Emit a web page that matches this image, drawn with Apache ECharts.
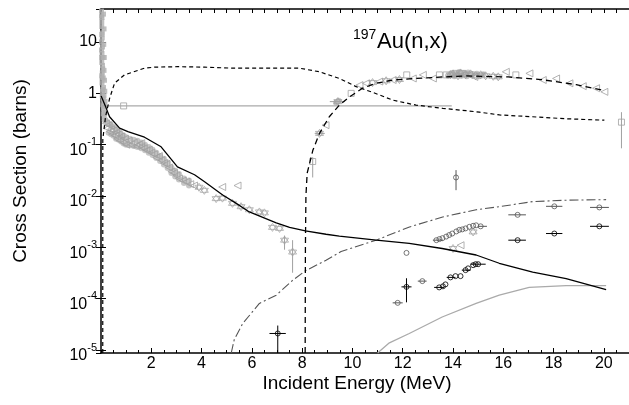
<!DOCTYPE html>
<html>
<head>
<meta charset="utf-8">
<script src="https://cdn.jsdelivr.net/npm/echarts@6/dist/echarts.min.js"></script>
<style>
  html, body { margin: 0; padding: 0; background: #fff; }
  #main { width: 629px; height: 405px; }
</style>
</head>
<body>
<div id="main"></div>
<script>
// axis range
var xMin = 0, xMax = 21;
var yMin = 8.75e-6, yMax = 44;

// evaluated curves [E (MeV), sigma (b)]
var capture = [[0.005, 0.89], [0.21, 0.51], [0.34, 0.35], [0.74, 0.21], [1.07, 0.18], [1.73, 0.14],
  [2.39, 0.091], [3.04, 0.037], [3.72, 0.026], [4.12, 0.019], [4.84, 0.0105], [5.38, 0.0072],
  [5.9, 0.0049], [6.97, 0.0030], [7.5, 0.00245], [8.13, 0.0021], [8.95, 0.0018], [9.48, 0.00166],
  [10.95, 0.00138], [12.26, 0.0012], [13.57, 0.00095], [14.92, 0.00071], [15.84, 0.00049],
  [17.17, 0.00033], [18.5, 0.000245], [20.09, 0.00015]];
var inelastic = [[0.07, 8.75e-6], [0.072, 0.126], [0.18, 0.35], [0.34, 0.79], [0.54, 1.58], [0.93, 2.29],
  [1.73, 3.09], [2.13, 3.24], [3.04, 3.31], [4.12, 3.24], [5.3, 3.09], [6.1, 3.09], [7.9, 3.09],
  [8.69, 2.63], [9.48, 1.95], [10.15, 1.35], [10.8, 1.05], [11.6, 0.74], [12.53, 0.59], [13.6, 0.51],
  [14.52, 0.46], [15.05, 0.43], [15.85, 0.38], [17.16, 0.35], [18.5, 0.32], [20.02, 0.30]];
var n2n = [[8.12, 8.75e-6], [8.13, 0.001], [8.15, 0.01], [8.2, 0.028], [8.43, 0.079], [8.69, 0.166],
  [9.08, 0.35], [9.48, 0.59], [9.88, 0.85], [10.4, 1.26], [10.94, 1.57], [11.6, 1.82], [12.53, 1.95],
  [13.6, 2.09], [14.52, 2.19], [16.2, 2.09], [17.5, 1.86], [18.9, 1.48], [20.05, 1.12]];
var nAlpha = [[5.18, 8.75e-6], [5.3, 1.6e-5], [5.64, 3.3e-5], [6.3, 8.1e-5], [6.97, 1.17e-4], [7.63, 2.3e-4],
  [8.13, 3.5e-4], [8.95, 5.6e-4], [9.55, 8.3e-4], [10.94, 1.38e-3], [12.27, 2.5e-3], [13.59, 3.9e-3],
  [14.92, 5.4e-3], [15.84, 6.2e-3], [17.17, 7.8e-3], [18.5, 8.3e-3], [20.09, 8.5e-3]];
var nProton = [[11.0, 8.75e-6], [11.47, 1.38e-5], [12.26, 2.1e-5], [13.57, 4.4e-5], [14.92, 8.1e-5],
  [15.84, 1.17e-4], [17.03, 1.66e-4], [18.5, 1.8e-4], [20.09, 1.8e-4]];
var flatLine = [[0, 0.57], [13.95, 0.57]];

// measured data, grey
var resonance = [[0.02, 40], [0.04, 30], [0.03, 20], [0.05, 15], [0.02, 10], [0.06, 8], [0.04, 6],
  [0.08, 5], [0.03, 4], [0.07, 3], [0.05, 2.5], [0.09, 2], [0.04, 1.6], [0.1, 1.3], [0.06, 1.1],
  [0.12, 0.9], [0.08, 0.75], [0.14, 0.6], [0.1, 0.5], [0.16, 0.42], [0.13, 0.35], [0.18, 0.3],
  [0.03, 25], [0.05, 12], [0.02, 7], [0.06, 3.5], [0.04, 2], [0.07, 1.2], [0.09, 0.8], [0.11, 0.55],
  [0.1, 35], [0.12, 18], [0.11, 9], [0.13, 5], [0.12, 2.8], [0.14, 1.8], [0.15, 1.1], [0.16, 0.7],
  [0.02, 32], [0.03, 14], [0.02, 5], [0.03, 2.2], [0.05, 0.9], [0.07, 0.6], [0.09, 0.4]];
var capDense = [[0.15, 0.3], [0.2, 0.29], [0.25, 0.27], [0.3, 0.26], [0.3, 0.17], [0.35, 0.25],
  [0.4, 0.24], [0.4, 0.16], [0.5, 0.22], [0.5, 0.15], [0.6, 0.2], [0.6, 0.13], [0.7, 0.18], [0.7, 0.125],
  [0.8, 0.16], [0.8, 0.115], [0.9, 0.15], [0.9, 0.105], [1.0, 0.14], [1.0, 0.1], [1.15, 0.13],
  [1.15, 0.098], [1.3, 0.125], [1.3, 0.094], [1.45, 0.12], [1.45, 0.09], [1.6, 0.11], [1.6, 0.085],
  [1.75, 0.1], [1.75, 0.078], [1.9, 0.09], [1.9, 0.07], [2.05, 0.08], [2.05, 0.063], [2.2, 0.07],
  [2.2, 0.055], [2.35, 0.06], [2.35, 0.048], [2.5, 0.053], [2.5, 0.041], [2.65, 0.045], [2.65, 0.035],
  [2.8, 0.036], [2.8, 0.028], [2.95, 0.031], [2.95, 0.024], [3.1, 0.027], [3.1, 0.021], [3.3, 0.022],
  [3.3, 0.018], [3.5, 0.02], [3.5, 0.016]];
var capBand = [[0.2, 0.26], [0.25, 0.21], [0.3, 0.24], [0.35, 0.18], [0.4, 0.2], [0.45, 0.16], [0.5, 0.19],
  [0.55, 0.15], [0.6, 0.17], [0.65, 0.13], [0.7, 0.16], [0.75, 0.12], [0.8, 0.145], [0.9, 0.11],
  [0.95, 0.13], [1.0, 0.1], [1.1, 0.12], [1.2, 0.1], [1.3, 0.11], [1.4, 0.095], [1.5, 0.1], [1.6, 0.09],
  [1.7, 0.085], [1.8, 0.078], [1.9, 0.08], [2.0, 0.07], [2.1, 0.065], [2.2, 0.056], [2.3, 0.06],
  [2.4, 0.05], [2.5, 0.044], [2.6, 0.042], [2.7, 0.036], [2.8, 0.03], [2.9, 0.028], [3.0, 0.025],
  [3.1, 0.022], [3.25, 0.02], [3.4, 0.019], [3.55, 0.017], [3.7, 0.016], [1.6, 0.107], [4.82, 0.015],
  [5.43, 0.016]];
var capStars = [[3.9, 0.0148], [4.11, 0.0129], [4.58, 0.0089], [4.83, 0.0091], [5.23, 0.0072], [5.57, 0.0062],
  [5.9, 0.0054], [6.3, 0.0049], [6.5, 0.0047], [6.82, 0.00245], [7.1, 0.00234], [7.3, 0.00138],
  [7.62, 0.00081], [14.0, 9.5e-4]];
var n2nSquares = [[0.9, 0.57], [8.42, 0.047], [9.95, 1.0], [12.16, 2.29], [13.46, 2.29], [13.73, 2.29],
  [14.12, 2.45], [14.39, 2.45], [16.5, 2.29], [20.7, 0.275]];
var n2nTriangles = [[8.93, 0.24], [10.28, 1.45], [10.54, 1.57], [11.07, 1.7], [11.6, 1.82], [12.4, 1.95],
  [12.8, 2.29], [13.2, 1.95], [14.65, 2.29], [14.85, 2.09], [16.1, 2.63], [17.04, 2.45], [17.57, 1.82],
  [18.1, 1.95], [18.63, 1.57], [19.16, 1.38], [19.69, 1.26], [20.02, 1.07], [14.3, 1.1e-3]];
var n2nStars = [[8.69, 0.166], [9.42, 0.69], [10.8, 1.62], [11.34, 1.76], [11.87, 1.86], [13.9, 2.3],
  [14.0, 2.4], [14.2, 2.2], [14.3, 2.5], [14.5, 2.3], [14.7, 2.4], [14.9, 2.2], [15.1, 2.3], [15.3, 2.2],
  [15.6, 2.15], [15.8, 2.1], [14.8, 2.0e-3]];
var n2nDense = [[9.35, 0.66], [9.45, 0.72], [13.8, 2.2], [13.95, 2.5], [14.05, 2.15], [14.15, 2.35],
  [14.25, 2.6], [14.35, 2.2], [14.45, 2.45], [14.55, 2.15], [14.6, 2.55], [14.75, 2.25], [14.95, 2.4],
  [15.05, 2.15], [15.2, 2.35]];

// measured data, black and dark grey
var blackPts = [[7.03, 2.1e-5], [12.15, 1.7e-4], [13.45, 1.66e-4], [13.6, 1.74e-4], [13.7, 1.9e-4],
  [13.9, 2.6e-4], [14.1, 2.75e-4], [14.3, 2.75e-4], [14.5, 3.6e-4], [14.6, 3.9e-4], [14.8, 4.5e-4],
  [14.9, 4.7e-4], [15.0, 4.7e-4], [16.57, 1.38e-3], [18.03, 1.86e-3], [19.82, 2.57e-3]];
var darkPts = [[11.8, 8.3e-5], [12.78, 2.2e-4], [12.15, 7.8e-4], [16.57, 4.3e-3], [18.03, 6.3e-3],
  [19.82, 6.0e-3], [14.12, 0.023], [13.34, 1.38e-3], [13.46, 1.45e-3], [13.58, 1.51e-3], [13.73, 1.62e-3],
  [13.85, 1.74e-3], [13.97, 1.86e-3], [14.13, 2.04e-3], [14.25, 2.19e-3], [14.37, 2.24e-3],
  [14.5, 2.34e-3], [14.65, 2.51e-3], [14.8, 2.63e-3], [14.92, 2.69e-3], [15.1, 2.57e-3]];

// error bars: vertical [E, lo, hi], horizontal [Elo, Ehi, sigma]
var vBarsBlack = [[7.03, 8.75e-6, 3.0e-5], [12.15, 8.5e-5, 2.5e-4]];
var hBarsBlack = [[6.7, 7.35, 2.1e-5], [11.95, 12.35, 1.7e-4], [13.25, 13.65, 1.66e-4], [13.75, 14.1, 2.6e-4],
  [14.35, 14.7, 3.6e-4], [14.7, 15.3, 4.7e-4], [16.2, 16.9, 1.38e-3], [17.7, 18.35, 1.86e-3],
  [19.45, 20.2, 2.57e-3]];
var hBarsDark = [[16.2, 16.9, 4.3e-3], [17.7, 18.35, 6.3e-3], [19.45, 20.2, 6.0e-3], [11.6, 12.0, 8.3e-5],
  [12.6, 12.95, 2.2e-4], [13.2, 13.6, 1.38e-3], [15.0, 15.35, 2.57e-3]];
var vBarsDark = [[14.12, 0.013, 0.032]];
var vBarsGrey = [[7.3, 9e-4, 1.7e-3], [7.62, 3.2e-4, 1.38e-3], [8.42, 0.023, 0.057], [20.7, 0.085, 0.43]];
var hBarsGrey = [[8.5, 8.9, 0.166], [9.1, 9.7, 0.69]];

var font = 'Liberation Sans, Arial, sans-serif';
var starPath = 'path://M5,0 L10,8.66 L0,8.66 Z M5,11.55 L0,2.89 L10,2.89 Z';

function segs(v, h) {
  var out = [];
  v.forEach(function (b) { out.push([b[0], b[1], b[0], b[2]]); });
  h.forEach(function (b) { out.push([b[0], b[2], b[1], b[2]]); });
  return out;
}

function barSeries(data, color) {
  return {
    type: 'custom',
    data: data,
    encode: { x: [0, 2], y: [1, 3] },
    silent: true,
    z: 3,
    renderItem: function (params, api) {
      var p1 = api.coord([api.value(0), api.value(1)]);
      var p2 = api.coord([api.value(2), api.value(3)]);
      return {
        type: 'line',
        shape: { x1: p1[0], y1: p1[1], x2: p2[0], y2: p2[1] },
        style: { stroke: color, lineWidth: 1 }
      };
    }
  };
}

function lineSeries(data, color, type, width) {
  return {
    type: 'line', data: data, showSymbol: false, symbol: 'none', silent: true, z: 4,
    lineStyle: { color: color, width: width || 1.2, type: type || 'solid' }
  };
}

function pointSeries(data, symbol, size, color, rotate) {
  return {
    type: 'scatter', data: data, symbol: symbol, symbolSize: size, symbolRotate: rotate || 0,
    silent: true, z: 2,
    itemStyle: { color: 'rgba(0,0,0,0)', borderColor: color, borderWidth: 1 }
  };
}

function fillSeries(data, symbol, size, color) {
  return {
    type: 'scatter', data: data, symbol: symbol, symbolSize: size,
    silent: true, z: 1,
    itemStyle: { color: color }
  };
}

var chart = echarts.init(document.getElementById('main'));

var option = {
  animation: false,
  backgroundColor: '#fff',
  grid: { left: 101, right: 0, top: 9, bottom: 52 },
  xAxis: [{
    type: 'value', min: xMin, max: xMax, interval: 2, position: 'bottom',
    splitLine: { show: false },
    axisLine: { lineStyle: { color: '#000', width: 1.5 } },
    axisTick: { inside: true, length: 5, lineStyle: { color: '#000' } },
    axisLabel: {
      showMinLabel: false, showMaxLabel: false, margin: 3,
      color: '#000', fontSize: 16, fontFamily: font
    }
  }, {
    type: 'value', min: xMin, max: xMax, interval: 0.5, position: 'bottom',
    splitLine: { show: false }, axisLabel: { show: false },
    axisLine: { show: false },
    axisTick: { inside: true, length: 3, lineStyle: { color: '#000' } }
  }, {
    type: 'value', min: xMin, max: xMax, interval: 0.5, position: 'top',
    splitLine: { show: false }, axisLabel: { show: false },
    axisLine: { lineStyle: { color: '#000', width: 1.5 } },
    axisTick: { inside: true, length: 4, lineStyle: { color: '#000' } }
  }],
  yAxis: [{
    type: 'log', min: yMin, max: yMax, position: 'left',
    splitLine: { show: false },
    axisLine: { lineStyle: { color: '#000', width: 1.5 } },
    axisTick: { inside: true, length: 5, lineStyle: { color: '#000' } },
    axisLabel: {
      showMinLabel: false, showMaxLabel: false, margin: 4,
      formatter: function (v) {
        var e = Math.round(Math.log10(v));
        if (e === 0) return '{n|1}';
        if (e === 1) return '{n|10}';
        return '{b|10}{s|' + e + '}';
      },
      rich: {
        n: { fontSize: 16, fontFamily: font, color: '#000' },
        b: { fontSize: 16, lineHeight: 16, fontFamily: font, color: '#000', padding: [6, 0, 0, 0], verticalAlign: 'top' },
        s: { fontSize: 11, lineHeight: 11, fontFamily: font, color: '#000', verticalAlign: 'top' }
      }
    }
  }, {
    type: 'log', min: yMin, max: yMax, position: 'right',
    splitLine: { show: false }, axisLabel: { show: false },
    axisLine: { show: false },
    axisTick: { inside: true, length: 5, lineStyle: { color: '#000' } }
  }],
  graphic: [
    { type: 'text', left: 353, top: 28, style: { text: '197', fontSize: 14, fontFamily: font, fill: '#000' } },
    { type: 'text', left: 377, top: 31, style: { text: 'Au(n,x)', fontSize: 22, fontFamily: font, fill: '#000' } },
    { type: 'text', x: 357, y: 384, style: { text: 'Incident Energy (MeV)', fontSize: 19, fontFamily: font, fill: '#000', align: 'center', verticalAlign: 'middle' } },
    { type: 'text', x: 21, y: 171, rotation: Math.PI / 2, style: { text: 'Cross Section (barns)', fontSize: 19, fontFamily: font, fill: '#000', align: 'center', verticalAlign: 'middle' } }
  ],
  series: [
    fillSeries(resonance, 'rect', 5, '#b0b0b0'),
    fillSeries(capDense, 'circle', 6, '#b8b8b8'),
    fillSeries(n2nDense, 'circle', 6, '#b8b8b8'),
    pointSeries(capBand, 'triangle', 7, '#a0a0a0', 90),
    pointSeries(capStars, starPath, 8, '#a8a8a8'),
    pointSeries(n2nSquares, 'rect', 6, '#a0a0a0'),
    pointSeries(n2nTriangles, 'triangle', 7, '#a0a0a0', 90),
    pointSeries(n2nStars, starPath, 8, '#a0a0a0'),
    pointSeries(darkPts, 'circle', 5, '#555'),
    pointSeries(blackPts, 'circle', 5, '#000'),
    barSeries(segs(vBarsGrey, hBarsGrey), '#a0a0a0'),
    barSeries(segs(vBarsDark, hBarsDark), '#555'),
    barSeries(segs(vBarsBlack, hBarsBlack), '#000'),
    lineSeries(flatLine, '#aaa', 'solid', 1.2),
    lineSeries(nProton, '#aaa', 'solid', 1.3),
    lineSeries(nAlpha, '#555', [9, 3, 2, 3], 1.1),
    lineSeries(inelastic, '#000', [4, 3], 1.2),
    lineSeries(n2n, '#000', [6, 4], 1.3),
    lineSeries(capture, '#000', 'solid', 1.3)
  ]
};

chart.setOption(option);
</script>
</body>
</html>
